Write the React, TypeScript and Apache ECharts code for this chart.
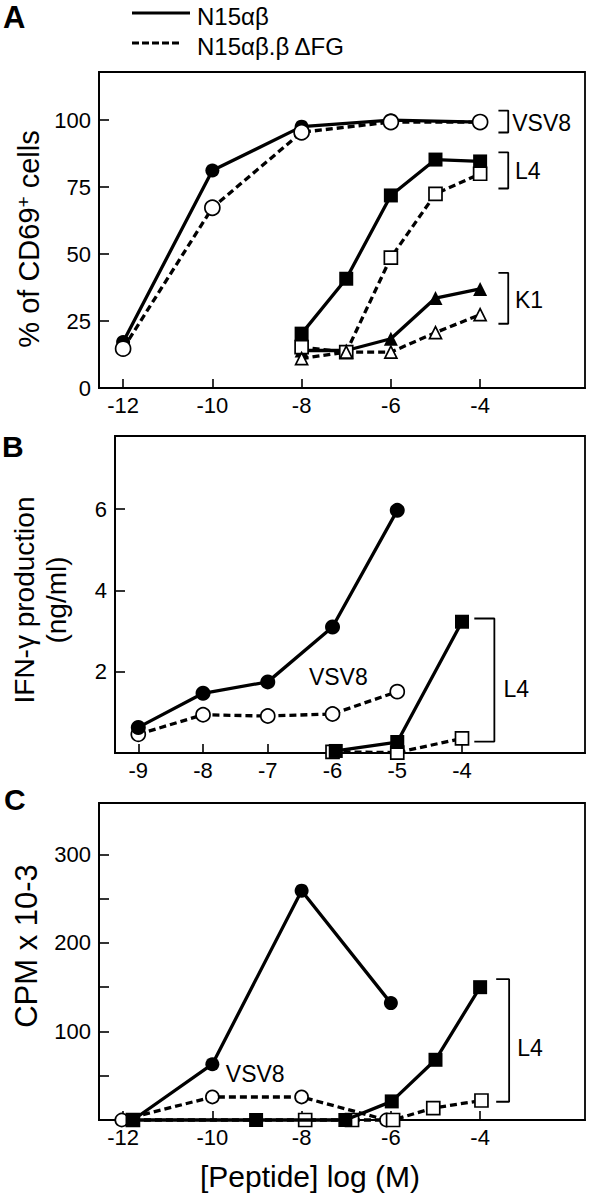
import { useEffect, useRef } from "react";
import * as echarts from "echarts";

// ---------- Panel A : % of CD69+ cells ----------
const A_VSV8_WT = [[-12, 17.2], [-10, 81.2], [-8, 97.6], [-6, 100], [-4, 99.3]];
const A_VSV8_DFG = [[-12, 14.7], [-10, 67.3], [-8, 95.5], [-6, 99.3], [-4, 99.3]];
const A_L4_WT = [[-8, 20.3], [-7, 40.8], [-6, 71.9], [-5, 85.3], [-4, 84.6]];
const A_L4_DFG = [[-8, 15.3], [-7, 13.4], [-6, 48.7], [-5, 72.5], [-4, 80]];
const A_K1_WT = [[-8, 14], [-7, 14], [-6, 18.4], [-5, 33.6], [-4, 37]];
const A_K1_DFG = [[-8, 11], [-7, 13.4], [-6, 13.4], [-5, 20.7], [-4, 27.4]];
const A_X_TICKS = [-12, -10, -8, -6, -4];
const A_Y_TICKS = [0, 25, 50, 75, 100];
const A_X_RANGE = [-12.54, -1.65];
const A_Y_RANGE = [0, 118];
// bracket: [xArm, xBar, yTop, yBottom], label: [x, y, text]
const A_BRACKETS = [[-3.59, -3.37, 103.6, 95.4], [-3.59, -3.37, 88, 74.5], [-3.59, -3.37, 43, 24]];
const A_BRACKET_LABELS = [[-3.28, 99.1, "VSV8"], [-3.22, 81.2, "L4"], [-3.22, 33, "K1"]];

// ---------- Panel B : IFN-γ production ----------
const B_VSV8_WT = [[-9, 0.63], [-8, 1.47], [-7, 1.75], [-6, 3.1], [-5, 5.97]];
const B_VSV8_DFG = [[-9, 0.46], [-8, 0.94], [-7, 0.91], [-6, 0.96], [-5, 1.51]];
const B_L4_WT = [[-5.95, 0.05], [-5, 0.27], [-4, 3.23]];
const B_L4_DFG = [[-6, 0.03], [-5, 0.01], [-4, 0.36]];
const B_X_TICKS = [-9, -8, -7, -6, -5, -4];
const B_Y_TICKS = [2, 4, 6];
const B_X_RANGE = [-9.36, -2.1];
const B_Y_RANGE = [0, 7.8];
const B_BRACKETS = [[-3.81, -3.5, 3.31, 0.28]];
const B_BRACKET_LABELS = [[-3.36, 1.57, "L4"]];
const B_CENTER_LABELS = [[-5.91, 1.86, "VSV8"]];

// ---------- Panel C : CPM x 10-3 ----------
const C_VSV8_WT = [[-11.78, 0], [-10, 63], [-8, 259], [-6, 132]];
const C_VSV8_DFG = [[-12.03, 0], [-10, 26], [-8, 26], [-6.1, 0]];
const C_L4_WT = [[-11.78, 0], [-9.02, 0], [-7.02, 0], [-5.98, 21], [-5, 68], [-4, 150]];
const C_L4_DFG = [[-11.78, 0], [-7.92, 0], [-6.87, 0], [-5.95, 0], [-5.05, 13.5], [-3.97, 22]];
const C_X_TICKS = [-12, -10, -8, -6, -4];
const C_Y_TICKS = [50, 100, 150, 200, 250, 300];
const C_Y_LABELS = [100, 200, 300];
const C_X_RANGE = [-12.54, -1.65];
const C_Y_RANGE = [0, 358];
const C_BRACKETS = [[-3.64, -3.35, 159, 20.6]];
const C_BRACKET_LABELS = [[-3.17, 81, "L4"]];
const C_CENTER_LABELS = [[-9.04, 52, "VSV8"]];

const LEGEND_NAMES = ["N15αβ", "N15αβ.β ΔFG"];

const FONT = '"Liberation Sans", Arial, Helvetica, sans-serif';
const BLACK = "#000";

function dataSeries(data: number[][], gi: number, symbol: string, filled: boolean, dashed: boolean, size: number, z: number) {
  return {
    type: "line",
    xAxisIndex: gi,
    yAxisIndex: gi,
    data,
    symbol,
    symbolSize: size,
    showAllSymbol: true,
    clip: false,
    z,
    lineStyle: { color: BLACK, width: 3.3, type: dashed ? [7, 4] : "solid" },
    itemStyle: {
      color: filled ? BLACK : "#fff",
      borderColor: BLACK,
      borderWidth: filled ? 0 : 1.7,
    },
    emphasis: { disabled: true },
  };
}

function bracketSeries(b: number[], gi: number) {
  const [xa, xb, yt, yb] = b;
  return {
    type: "line",
    xAxisIndex: gi,
    yAxisIndex: gi,
    data: [[xa, yt], [xb, yt], [xb, yb], [xa, yb]],
    symbol: "none",
    clip: false,
    lineStyle: { color: BLACK, width: 1.8 },
    emphasis: { disabled: true },
  };
}

function labelSeries(items: any[], gi: number, position: string) {
  return {
    type: "scatter",
    xAxisIndex: gi,
    yAxisIndex: gi,
    symbolSize: 0,
    clip: false,
    z: 10,
    itemStyle: { color: BLACK },
    label: { show: true, color: BLACK, opacity: 1 },
    data: items.map((it) => ({
      value: [it[0], it[1]],
      label: {
        show: true,
        formatter: it[2],
        position,
        distance: 0,
        color: BLACK,
        opacity: 1,
        fontSize: 23,
        fontFamily: FONT,
      },
    })),
    emphasis: { disabled: true },
  };
}

function xAxis(gi: number, range: number[], ticks: number[]) {
  return {
    type: "value",
    gridIndex: gi,
    min: range[0],
    max: range[1],
    axisLine: { show: true, lineStyle: { color: BLACK, width: 1.8 } },
    axisTick: { show: true, inside: true, length: 9, customValues: ticks, lineStyle: { color: BLACK, width: 1.6 } },
    axisLabel: { customValues: ticks, color: BLACK, fontSize: 22, fontFamily: FONT, margin: 6 },
    splitLine: { show: false },
  };
}

function yAxis(gi: number, range: number[], ticks: number[], labels: number[], name: any, nameGap: number, nameStyle: any) {
  return {
    type: "value",
    gridIndex: gi,
    min: range[0],
    max: range[1],
    name,
    nameLocation: "middle",
    nameGap,
    nameTextStyle: { color: BLACK, fontFamily: FONT, ...nameStyle },
    axisLine: { show: true, lineStyle: { color: BLACK, width: 1.8 } },
    axisTick: { show: true, inside: true, length: 10, customValues: ticks, lineStyle: { color: BLACK, width: 1.6 } },
    axisLabel: { customValues: labels, color: BLACK, fontSize: 22, fontFamily: FONT, margin: 8 },
    splitLine: { show: false },
  };
}

export default function App() {
  const ref = useRef<HTMLDivElement>(null);

  useEffect(() => {
    if (!ref.current) return;
    const chart = echarts.init(ref.current, null, { renderer: "svg" });
    const gridBase = { left: 99, width: 486, show: true, borderColor: BLACK, borderWidth: 1.8, backgroundColor: "transparent" };

    const option: any = {
      animation: false,
      backgroundColor: "#fff",
      grid: [
        { ...gridBase, top: 72, height: 316 },
        { ...gridBase, top: 436, height: 317 },
        { ...gridBase, top: 803, height: 317 },
      ],
      xAxis: [
        xAxis(0, A_X_RANGE, A_X_TICKS),
        xAxis(1, B_X_RANGE, B_X_TICKS),
        {
          ...xAxis(2, C_X_RANGE, C_X_TICKS),
          name: "[Peptide] log (M)",
          nameLocation: "middle",
          nameGap: 41,
          nameTextStyle: { color: BLACK, fontFamily: FONT, fontSize: 30, padding: [0, 64, 0, 0] },
        },
      ],
      yAxis: [
        yAxis(0, A_Y_RANGE, A_Y_TICKS, A_Y_TICKS, "% of CD69{sup|+} cells", 56, {
          fontSize: 29,
          padding: [0, 18, 0, 0],
          rich: { sup: { fontSize: 19, verticalAlign: "top", fontFamily: FONT, color: BLACK } },
        }),
        yAxis(1, B_Y_RANGE, B_Y_TICKS, B_Y_TICKS, "IFN-γ production\n(ng/ml)", 43, {
          fontSize: 28,
          lineHeight: 32,
          padding: [0, 11, 0, 0],
        }),
        yAxis(2, C_Y_RANGE, C_Y_TICKS, C_Y_LABELS, "CPM x 10-3", 57, {
          fontSize: 31,
          padding: [0, 0, 0, 31],
        }),
      ],
      graphic: [
        { type: "text", left: 3, top: 2, style: { text: "A", font: `bold 31px ${FONT}`, fill: BLACK } },
        { type: "text", left: 2, top: 431, style: { text: "B", font: `bold 30px ${FONT}`, fill: BLACK } },
        { type: "text", left: 4, top: 784, style: { text: "C", font: `bold 30px ${FONT}`, fill: BLACK } },
        { type: "line", shape: { x1: 132, y1: 13, x2: 190, y2: 13 }, style: { stroke: BLACK, lineWidth: 3.2 } },
        { type: "line", shape: { x1: 132, y1: 43, x2: 182, y2: 43 }, style: { stroke: BLACK, lineWidth: 3.2, lineDash: [7, 3] } },
        { type: "text", x: 197, y: 16, style: { text: LEGEND_NAMES[0], font: `24px ${FONT}`, fill: BLACK, verticalAlign: "middle" } },
        { type: "text", x: 197, y: 46, style: { text: LEGEND_NAMES[1], font: `24px ${FONT}`, fill: BLACK, verticalAlign: "middle" } },
      ],
      series: [
        // Panel A
        dataSeries(A_VSV8_WT, 0, "circle", true, false, 14, 3),
        dataSeries(A_VSV8_DFG, 0, "circle", false, true, 15, 4),
        dataSeries(A_L4_WT, 0, "rect", true, false, 14, 3),
        dataSeries(A_L4_DFG, 0, "rect", false, true, 13, 4),
        dataSeries(A_K1_WT, 0, "triangle", true, false, 14, 3),
        dataSeries(A_K1_DFG, 0, "triangle", false, true, 12, 4),
        ...A_BRACKETS.map((b) => bracketSeries(b, 0)),
        labelSeries(A_BRACKET_LABELS, 0, "right"),
        // Panel B
        dataSeries(B_VSV8_DFG, 1, "circle", false, true, 14, 3),
        dataSeries(B_VSV8_WT, 1, "circle", true, false, 15, 4),
        dataSeries(B_L4_DFG, 1, "rect", false, true, 13, 3),
        dataSeries(B_L4_WT, 1, "rect", true, false, 14, 4),
        ...B_BRACKETS.map((b) => bracketSeries(b, 1)),
        labelSeries(B_BRACKET_LABELS, 1, "right"),
        labelSeries(B_CENTER_LABELS, 1, "inside"),
        // Panel C
        dataSeries(C_VSV8_DFG, 2, "circle", false, true, 13, 3),
        dataSeries(C_L4_DFG, 2, "rect", false, true, 13, 3),
        dataSeries(C_VSV8_WT, 2, "circle", true, false, 14, 4),
        dataSeries(C_L4_WT, 2, "rect", true, false, 14, 5),
        ...C_BRACKETS.map((b) => bracketSeries(b, 2)),
        labelSeries(C_BRACKET_LABELS, 2, "right"),
        labelSeries(C_CENTER_LABELS, 2, "inside"),
      ],
    };
    chart.setOption(option);
    return () => chart.dispose();
  }, []);

  return (
    <div
      ref={ref}
      style={{ position: "fixed", left: 0, top: 0, width: 591, height: 1199, background: "#fff" }}
    />
  );
}
